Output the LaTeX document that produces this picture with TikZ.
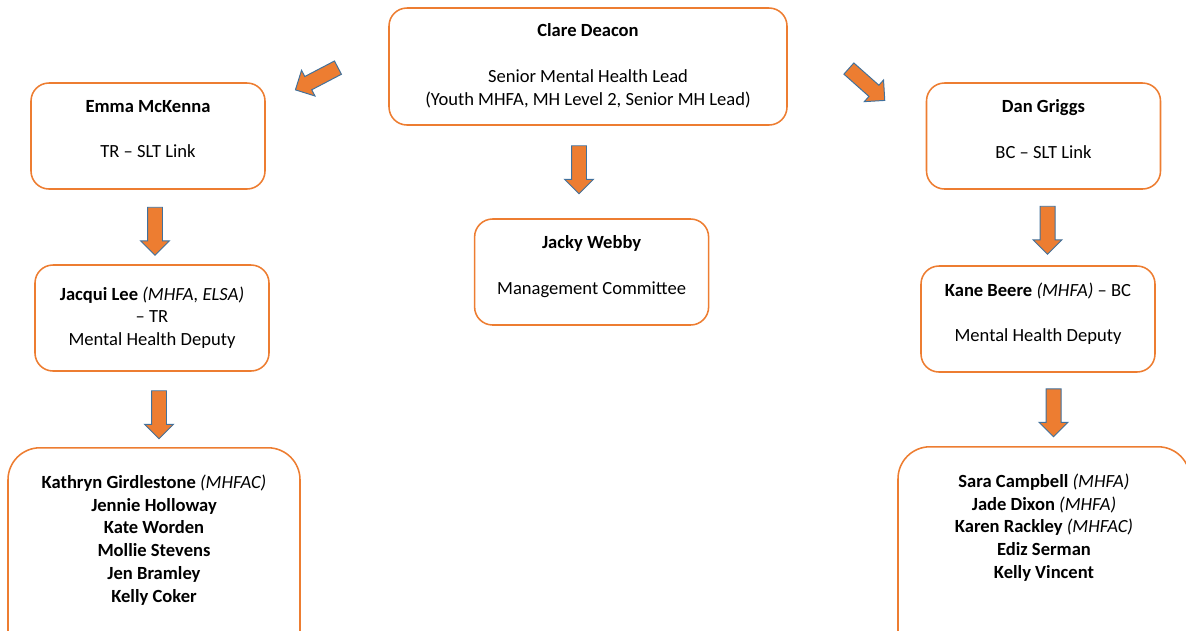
\documentclass[tikz,border=0pt]{standalone}
\usepackage{fontspec}
\setmainfont{Carlito}
\usetikzlibrary{shapes.arrows, positioning}
\definecolor{boxorange}{HTML}{ED7D31}
\definecolor{arrowblue}{HTML}{41719C}
\newcommand{\chartfont}{\fontsize{13.2pt}{16.2pt}\selectfont}
\tikzset{
    person/.style={rectangle, rounded corners=0.45cm, draw=boxorange, line width=1.1pt, align=center, minimum width=5.85cm, minimum height=2.65cm, text depth=0.35cm, font=\chartfont},
    lead/.style={person, minimum width=9.95cm, minimum height=2.925cm, text depth=0.1cm},
    team/.style={rectangle, rounded corners=0.8cm, draw=boxorange, line width=1.1pt, align=center, minimum width=7.3cm, anchor=north, inner ysep=0.675cm, text depth=3.25cm, font=\chartfont},
    blockarrow/.style={single arrow, draw=arrowblue, fill=boxorange, line width=0.7pt, minimum width=0.7cm, minimum height=1.2cm, single arrow head extend=0.175cm, inner xsep=0pt, inner ysep=0.175cm}
}
\begin{document}
\begin{tikzpicture}
    \useasboundingbox (0,0) rectangle (29.65,-15.75);

    % Top: lead and management
    \node[lead] (clare) at (14.7,-1.6625) {\textbf{Clare Deacon}\\[0.57cm]Senior Mental Health Lead\\(Youth MHFA, MH Level 2, Senior MH Lead)};
    \node[person] (jacky) at (14.79,-6.8) {\textbf{Jacky Webby}\\[0.57cm]Management Committee};

    % Left column: TR
    \node[person] (emma) at (3.7,-3.4) {\textbf{Emma McKenna}\\[0.57cm]TR – SLT Link};
    \node[person, text depth=0.1cm] (jacqui) at (3.8,-7.95) {\textbf{Jacqui Lee} \textit{(MHFA, ELSA)}\\– TR\\Mental Health Deputy};
    \node[team] (trteam) at (3.85,-11.175) {\textbf{Kathryn Girdlestone} \textit{(MHFAC)}\\\textbf{Jennie Holloway}\\\textbf{Kate Worden}\\\textbf{Mollie Stevens}\\\textbf{Jen Bramley}\\\textbf{Kelly Coker}};

    % Right column: BC
    \node[person] (dan) at (26.0875,-3.4) {\textbf{Dan Griggs}\\[0.57cm]BC – SLT Link};
    \node[person] (kane) at (25.95,-7.975) {\textbf{Kane Beere} \textit{(MHFA)} – BC\\[0.57cm]Mental Health Deputy};
    \node[team] (bcteam) at (26.1,-11.15) {\textbf{Sara Campbell} \textit{(MHFA)}\\\textbf{Jade Dixon} \textit{(MHFA)}\\\textbf{Karen Rackley} \textit{(MHFAC)}\\\textbf{Ediz Serman}\\\textbf{Kelly Vincent}};

    % Block arrows
    \node[blockarrow, rotate=207.6] (toemma) at (8.0,-1.925) {};
    \node[blockarrow, rotate=-41.6] (todan) at (21.6,-2.05) {};
    \node[blockarrow, rotate=-90] (tojacky) at (14.475,-4.15) {};
    \node[blockarrow, rotate=-90] (tojacqui) at (3.875,-5.6875) {};
    \node[blockarrow, rotate=-90] (totrteam) at (3.975,-10.275) {};
    \node[blockarrow, rotate=-90] (tokane) at (26.1875,-5.6625) {};
    \node[blockarrow, rotate=-90] (tobcteam) at (26.3375,-10.225) {};

\end{tikzpicture}
\end{document}
